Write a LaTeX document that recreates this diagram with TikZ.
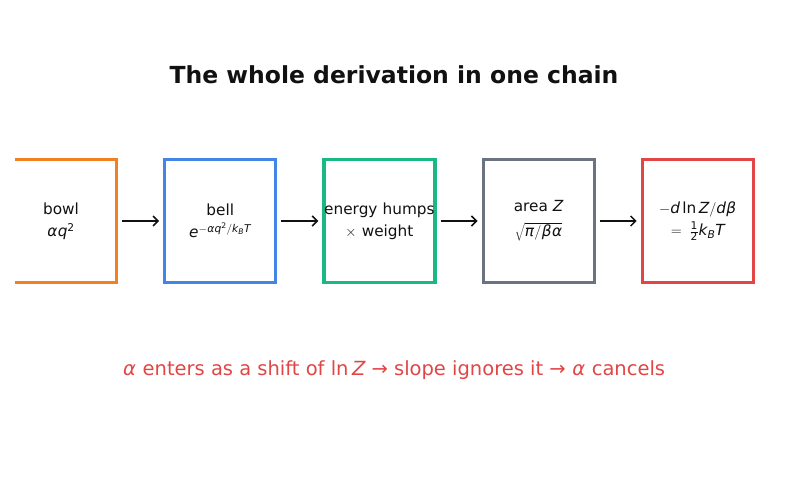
\documentclass[tikz,border=0pt]{standalone}
\usepackage{mathspec}
\setmainfont{DejaVu Sans}
\setmathsfont(Digits,Latin,Greek){DejaVu Sans}
\setmathrm{DejaVu Sans}
\usetikzlibrary{positioning, arrows.meta}
\definecolor{inkcolor}{RGB}{17,17,17}
\definecolor{bowlcolor}{RGB}{240,128,34}
\definecolor{bellcolor}{RGB}{66,133,230}
\definecolor{humpcolor}{RGB}{26,184,132}
\definecolor{areacolor}{RGB}{107,114,128}
\definecolor{slopecolor}{RGB}{226,69,69}

\tikzset{
  stage/.style={draw, line width=3.2pt, fill=white, minimum width=111pt,
                minimum height=123pt, inner xsep=0pt, text width=111pt,
                align=center, text=inkcolor,
                font=\fontsize{15.3}{22}\selectfont},
  flow/.style={-{Straight Barb[length=5pt,width=10pt]}, line width=1.5pt,
               shorten >=4pt, shorten <=4pt, draw=inkcolor}
}

\begin{document}
\begin{tikzpicture}[x=1pt, y=-1pt]
  \useasboundingbox (0,0) rectangle (787,480);

  % Titel
  \node[font=\bfseries\fontsize{23.5}{28}\selectfont, text=inkcolor] (title) at (394,75)
       {The whole derivation in one chain};

  % Kette
  \begin{scope}
    \clip (15,0) rectangle (787,480);
    \node[stage, draw=bowlcolor] (bowl) at (61,221) {bowl\\$\alpha q^2$};
  \end{scope}
  \node[stage, draw=bellcolor, right=45pt of bowl] (bell)
       {bell\\$e^{-\alpha q^2/k_B T}$};
  \node[stage, draw=humpcolor, right=45pt of bell] (humps)
       {energy humps\\$\times$ weight};
  \node[stage, draw=areacolor, right=45pt of humps] (area)
       {area $Z$\\[3pt]$\sqrt{\pi/\beta\alpha}$};
  \node[stage, draw=slopecolor, right=45pt of area] (slope)
       {$-d\ln Z/d\beta$\\${=}\;\frac{1}{2}k_B T$};

  \draw[flow] (bowl) -- (bell);
  \draw[flow] (bell) -- (humps);
  \draw[flow] (humps) -- (area);
  \draw[flow] (area) -- (slope);

  % Fazit
  \node[font=\fontsize{19.5}{23}\selectfont, text=slopecolor] (note) at (394,370)
       {$\alpha$ enters as a shift of $\ln Z$ → slope ignores it → $\alpha$ cancels};
\end{tikzpicture}
\end{document}
